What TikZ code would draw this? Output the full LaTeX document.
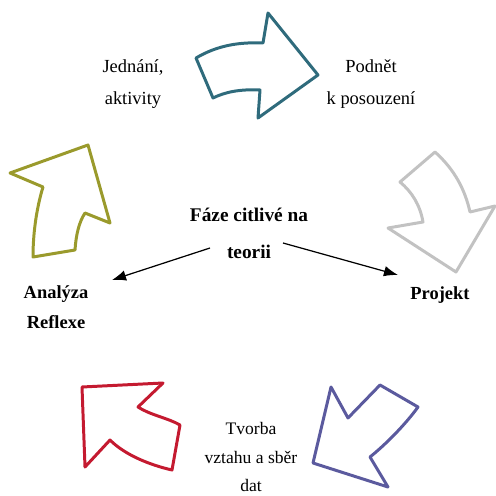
\documentclass[tikz,border=0pt]{standalone}
\usepackage{fontspec}
\setmainfont{LiberationSerif}[Extension=.ttf,UprightFont=*-Regular,BoldFont=*-Bold]
\usepackage{tikz}
\usetikzlibrary{arrows.meta}
\usepackage{xcolor}
\definecolor{teal1}{HTML}{2F6B7C}
\definecolor{grey1}{HTML}{C2C2C2}
\definecolor{olive1}{HTML}{9A9A2C}
\definecolor{red1}{HTML}{C41A30}
\definecolor{blue1}{HTML}{5B5A9E}

\begin{document}
\begin{tikzpicture}[x=0.02cm,y=-0.02cm,line join=round,
  shp/.style={line width=1.7pt},
  lbl/.style={align=center,font=\fontsize{10.5}{18.2}\selectfont},
  blbl/.style={align=center,font=\bfseries\fontsize{10.5}{17}\selectfont}]
\useasboundingbox (0,0) rectangle (496,496);

\draw[shp,teal1] (196,58) .. controls (218,45) and (240,42) .. (263,43)--(268,13)--(318,75)--(258,118)--(260,90) .. controls (240,89) and (225,92) .. (213,98)--cycle;
\draw[shp,grey1] (400,182)--(435,152) .. controls (455,170) and (465,190) .. (470,212)--(495,206)--(456,272)--(388,228)--(423,222) .. controls (420,205) and (412,192) .. (400,182)--cycle;
\draw[shp,blue1] (331,387)--(348,418)--(380,385)--(418,407) .. controls (405,425) and (385,445) .. (370,457)--(388,487)--(313,463)--cycle;
\draw[shp,red1] (82,387)--(163,383)--(138,407) .. controls (150,415) and (168,418) .. (180,425)--(172,470) .. controls (150,465) and (125,455) .. (110,440)--(85,467)--cycle;
\draw[shp,olive1] (88,145)--(10,173)--(43,187) .. controls (36,210) and (33,235) .. (33,257)--(75,250) .. controls (76,235) and (79,222) .. (85,213)--(110,223)--cycle;

\node[lbl] (act) at (133,84) {Jednání,\\aktivity};
\node[lbl] (podnet) at (371,84) {Podnět\\k posouzení};
\node[lbl,font=\fontsize{10}{16}\selectfont] (tvorba) at (251,457) {Tvorba\\vztahu a sběr\\dat};
\node[blbl,font=\bfseries\fontsize{11}{21}\selectfont] (faze) at (249,233) {Fáze citlivé na\\teorii};
\node[blbl] (analyza) at (56,307) {Analýza\\Reflexe};
\node[blbl] (projekt) at (440,295) {Projekt};

\coordinate (ls) at (210,248);
\coordinate (le) at (112,280);
\coordinate (rs) at (283,243);
\coordinate (re) at (398,275);
\draw[-{Latex[length=8pt,width=6pt]},line width=0.7pt] (ls)--(le);
\draw[-{Latex[length=8pt,width=6pt]},line width=0.7pt] (rs)--(re);

\end{tikzpicture}
\end{document}
